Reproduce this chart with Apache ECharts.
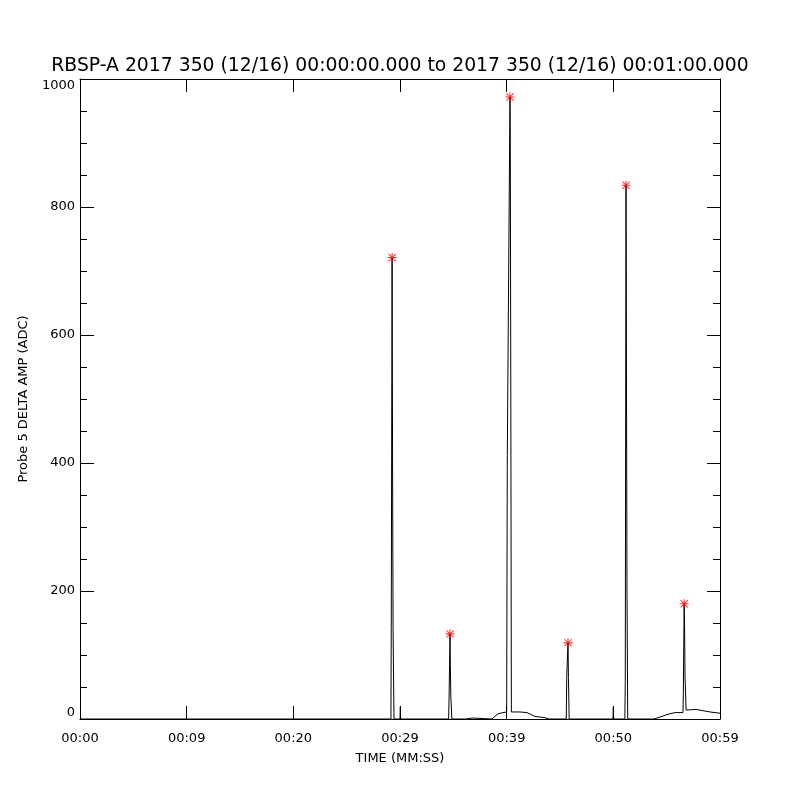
<!DOCTYPE html>
<html>
<head>
<meta charset="utf-8">
<script src="https://cdn.jsdelivr.net/npm/echarts@6/dist/echarts.min.js"></script>
<style>
  html, body { margin: 0; padding: 0; background: #fff; }
  #chart { width: 800px; height: 800px; }
</style>
</head>
<body>
<div id="chart"></div>
<script>
// Probe 5 delta amplitude over one minute, peaks marked with red asterisks.

const titleText = 'RBSP-A 2017 350 (12/16) 00:00:00.000 to 2017 350 (12/16) 00:01:00.000'
const tickLabels = ['00:00', '00:09', '00:20', '00:29', '00:39', '00:50', '00:59']

// seconds since 00:00:00
const timeSec = [
  0, 29.15, 29.18, 29.26, 29.30, 29.35, 29.40, 29.44,
  30.00, 30.03, 30.06,
  34.56, 34.60, 34.69, 34.72, 34.77, 34.82, 34.86,
  36.20, 36.25, 36.80, 36.85,
  38.63, 38.90, 39.19, 39.66, 40.00, 40.06, 40.31, 40.34, 40.40, 40.44,
  40.55, 41.25, 41.90, 42.66, 43.60, 44.00,
  45.59, 45.63, 45.75, 45.79, 45.86,
  49.97, 50.00, 50.03,
  51.08, 51.12, 51.19, 51.22, 51.28, 51.35,
  53.81, 54.38, 55.03, 55.78, 56.53, 56.56, 56.64, 56.68, 56.72, 56.78, 56.82,
  57.75, 59.06, 60,
]
// ADC counts
const ampAdc = [
  0, 0, 143, 721, 419, 143, 58, 0,
  0, 19, 0,
  0, 33, 133, 85, 33, 17, 0,
  0, 1.5, 1.5, 0,
  0, 4, 8, 10, 11, 412, 972, 905, 412, 11,
  10, 11, 10, 4, 2, 0,
  0, 65, 119, 65, 0,
  0, 19, 0,
  0, 59, 834, 620, 203, 0,
  0, 3, 7, 10, 10, 36, 180, 145, 67, 66, 14,
  15, 11, 9,
]

const peakTimes = [29.26, 34.69, 40.31, 45.75, 51.19, 56.64]
const peakValues = [721, 133, 972, 119, 834, 180]

const asterisk =
  'path://M0,4.4H10V5.6H0Z M4.4,0H5.6V10H4.4Z ' +
  'M0.6,1.4L1.4,0.6L9.4,8.6L8.6,9.4Z M8.6,0.6L9.4,1.4L1.4,9.4L0.6,8.6Z'

const font = 'DejaVu Sans'
const black = '#000'

const chart = echarts.init(document.getElementById('chart'), null, { renderer: 'canvas' })

const frameLine = { show: true, onZero: false, lineStyle: { color: black, width: 1 } }

chart.setOption({
  backgroundColor: '#fff',
  animation: false,
  title: {
    text: titleText,
    left: 'center',
    top: 52,
    textStyle: { fontFamily: font, fontSize: 18.8, fontWeight: 'normal', color: black },
  },
  grid: { left: 80, right: 80, top: 79, bottom: 81 },
  xAxis: [
    {
      type: 'value',
      min: 0,
      max: 60,
      interval: 10,
      name: 'TIME (MM:SS)',
      nameLocation: 'middle',
      nameGap: 33,
      nameTextStyle: { fontFamily: font, fontSize: 13, color: black },
      axisLine: frameLine,
      axisTick: { inside: true, length: 13, lineStyle: { color: black } },
      axisLabel: {
        fontFamily: font,
        fontSize: 13,
        color: black,
        margin: 13,
        formatter: (v) => tickLabels[Math.round(v / 10)],
      },
      splitLine: { show: false },
    },
    {
      type: 'value',
      position: 'top',
      min: 0,
      max: 60,
      interval: 10,
      axisLine: frameLine,
      axisTick: { inside: true, length: 13, lineStyle: { color: black } },
      axisLabel: { show: false },
      splitLine: { show: false },
    },
  ],
  yAxis: [
    {
      type: 'value',
      min: 0,
      max: 1000,
      interval: 200,
      name: 'Probe 5 DELTA AMP (ADC)',
      nameLocation: 'middle',
      nameGap: 50,
      nameTextStyle: { fontFamily: font, fontSize: 13, color: black },
      axisLine: frameLine,
      axisTick: { inside: true, length: 14, lineStyle: { color: black } },
      minorTick: { show: true, splitNumber: 4, length: 7, lineStyle: { color: black } },
      axisLabel: {
        fontFamily: font,
        fontSize: 13,
        color: black,
        margin: 5,
        formatter: (v) => String(v),
        verticalAlignMaxLabel: 'top',
        verticalAlignMinLabel: 'bottom',
      },
      splitLine: { show: false },
    },
    {
      type: 'value',
      position: 'right',
      min: 0,
      max: 1000,
      interval: 200,
      axisLine: frameLine,
      axisTick: { inside: true, length: 13, lineStyle: { color: black } },
      minorTick: { show: true, splitNumber: 4, length: 7, lineStyle: { color: black } },
      axisLabel: { show: false },
      splitLine: { show: false },
    },
  ],
  series: [
    {
      type: 'line',
      xAxisIndex: 0,
      yAxisIndex: 0,
      data: timeSec.map((t, i) => [t, ampAdc[i]]),
      showSymbol: false,
      symbol: 'none',
      lineStyle: { color: black, width: 1 },
    },
    {
      type: 'scatter',
      xAxisIndex: 0,
      yAxisIndex: 0,
      data: peakTimes.map((t, i) => [t, peakValues[i]]),
      symbol: asterisk,
      symbolSize: 9,
      itemStyle: { color: '#ff0000' },
      z: 5,
    },
  ],
})
</script>
</body>
</html>
